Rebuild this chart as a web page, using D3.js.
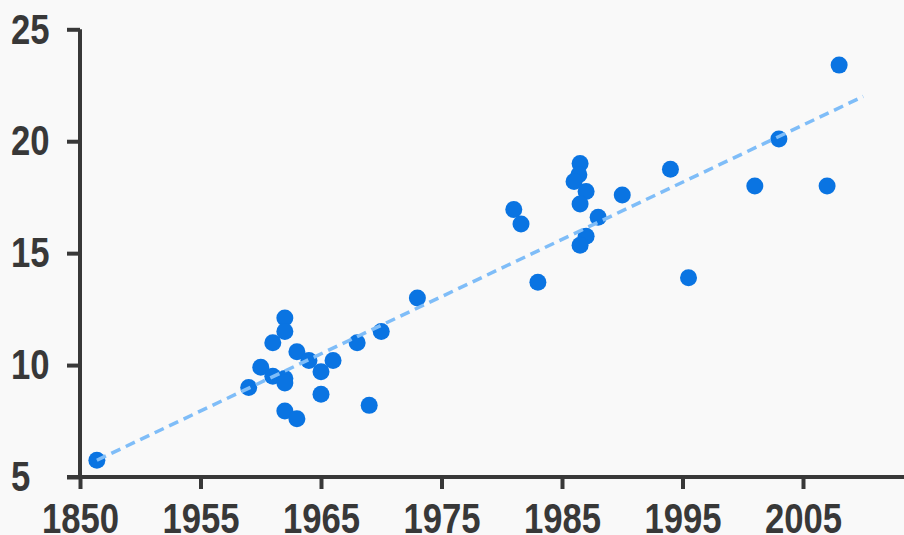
<!DOCTYPE html>
<html>
<head>
<meta charset="utf-8">
<script src="https://cdn.jsdelivr.net/npm/d3@7"></script>
<style>
  html, body { margin: 0; padding: 0; background: #f9f9f9; }
  svg { display: block; }
  .axis text { font-family: "Liberation Sans", Arial, sans-serif; font-weight: bold; font-size: 43px; fill: #383838; }
  .axis path, .axis line { stroke: #383838; stroke-width: 4; }
</style>
</head>
<body>
<svg id="chart"></svg>
<script>
// years (first one sits before the axis break) and values
const years = [1851.4, 1959, 1960, 1961, 1961, 1962, 1962, 1962, 1962, 1963, 1964, 1965, 1965, 1966,
  1962, 1963, 1968, 1970, 1969, 1973, 1981, 1981.6, 1986.5, 1986.4, 1986, 1987, 1986.5, 1988,
  1987, 1986.5, 1990, 1994, 1983, 1995.5, 2008, 2003, 2001, 2007];
const values = [5.75, 9.0, 9.9, 11.0, 9.5, 12.1, 11.5, 9.4, 9.2, 10.6, 10.2, 9.7, 8.7, 10.2,
  7.95, 7.6, 11.0, 11.5, 8.2, 13.0, 16.95, 16.3, 19.0, 18.5, 18.2, 17.75, 17.2, 16.6,
  15.75, 15.35, 17.6, 18.75, 13.7, 13.9, 23.4, 20.1, 18.0, 18.0];

const trendYears = [1851.4, 2010];
const trendValues = [5.75, 22.0];

const xTicks = [1945, 1955, 1965, 1975, 1985, 1995, 2005];
const xTickLabels = ["1850", "1955", "1965", "1975", "1985", "1995", "2005"];
const yTicks = [5, 10, 15, 20, 25];

const width = 904;
const height = 535;
const breakShift = 95; // 1850 drawn at the axis origin (1945 slot)
const digitW = 19.3;   // narrow digits, like the original condensed face

const svg = d3.select('#chart')
    .attr('width', width)
    .attr('height', height);

const x = d3.scaleLinear()
    .domain([1945, 2025])
    .range([80, 1044]);

const y = d3.scaleLinear()
    .domain([5, 25])
    .range([477, 29.3]);

const xb = yr => x(yr < 1900 ? yr + breakShift : yr);

const gx = svg.append('g')
    .attr('class', 'axis')
    .attr('transform', `translate(0,${y(5)})`)
    .call(d3.axisBottom(x)
        .tickValues(xTicks)
        .tickFormat((d, i) => xTickLabels[i])
        .tickSize(12)
        .tickSizeOuter(0)
        .tickPadding(13));

const gy = svg.append('g')
    .attr('class', 'axis')
    .attr('transform', `translate(${x(1945)},0)`)
    .call(d3.axisLeft(y)
        .tickValues(yTicks)
        .tickSize(13)
        .tickSizeOuter(0)
        .tickPadding(17));

// squeeze labels to the narrow look; place them from their start edge
gx.selectAll('text')
    .attr('text-anchor', 'start')
    .attr('textLength', function () { return this.textContent.length * digitW; })
    .attr('lengthAdjust', 'spacingAndGlyphs')
    .attr('x', function () { return -this.textContent.length * digitW / 2; });

gy.selectAll('text')
    .attr('text-anchor', 'start')
    .attr('textLength', function () { return this.textContent.length * digitW; })
    .attr('lengthAdjust', 'spacingAndGlyphs')
    .attr('x', -69);

// axis lines: x line reaches back to the end of the y tick
svg.selectAll('.axis path.domain').remove();
svg.append('line')
    .attr('x1', x(1945) - 13).attr('x2', width)
    .attr('y1', y(5)).attr('y2', y(5))
    .attr('stroke', '#383838').attr('stroke-width', 4);
svg.append('line')
    .attr('x1', x(1945)).attr('x2', x(1945))
    .attr('y1', y(25)).attr('y2', y(5))
    .attr('stroke', '#383838').attr('stroke-width', 4);

const pts = years.map((yr, i) => ({ yr, v: values[i] }));

svg.append('g')
    .selectAll('circle')
    .data(pts)
    .enter().append('circle')
    .attr('cx', d => xb(d.yr))
    .attr('cy', d => y(d.v))
    .attr('r', 8.5)
    .style('fill', '#0a74e2');

const trend = trendYears.map((yr, i) => [xb(yr), y(trendValues[i])]);

svg.append('path')
    .attr('d', d3.line()(trend))
    .attr('fill', 'none')
    .attr('stroke', '#7fbdf8')
    .attr('stroke-width', 3.5)
    .attr('stroke-dasharray', '10,6');
</script>
</body>
</html>
